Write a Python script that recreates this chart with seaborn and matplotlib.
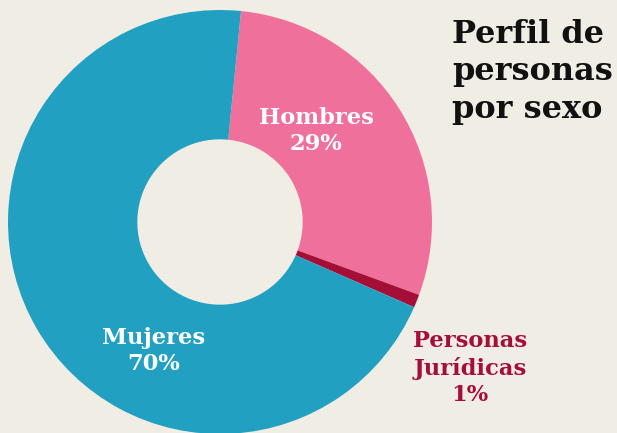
import matplotlib
matplotlib.use('Agg')
import matplotlib.pyplot as plt
import seaborn as sns

categorias = ['Hombres', 'Personas\nJurídicas', 'Mujeres']
porcentajes = [29, 1, 70]
colores = ['#F0709C', '#A50F37', '#21A0C2']

sns.set_theme(style='white')
plt.rcParams['font.family'] = ['DejaVu Serif']
fondo = '#F0EDE4'

fig = plt.figure(figsize=(6.17, 4.33), dpi=100, facecolor=fondo)
# ejes del anillo, el centro queda en (220, 222) px desde arriba
ax = fig.add_axes([8 / 617, -1 / 433, 424 / 617, 424 / 433])
ax.set_facecolor(fondo)
wedges, _ = ax.pie(porcentajes, colors=colores, startangle=84.3,
                   counterclock=False, radius=1,
                   wedgeprops=dict(width=0.61, linewidth=0))
ax.set_xlim(-1, 1)
ax.set_ylim(-1, 1)
ax.set_aspect('equal')
ax.axis('off')

# etiquetas
estilo = dict(ha='center', va='center', fontsize=16.3, fontweight='bold', linespacing=1.25)
ax.text(0.453, 0.43, f'{categorias[0]}\n{porcentajes[0]}%', color='white', **estilo)
ax.text(-0.315, -0.61, f'{categorias[2]}\n{porcentajes[2]}%', color='white', **estilo)
fig.text(470 / 617, 1 - 368 / 433, f'{categorias[1]}\n{porcentajes[1]}%',
         color=colores[1], **estilo)

fig.text(452 / 617, 1 - 19 / 433, 'Perfil de\npersonas\npor sexo', ha='left', va='top',
         color='#111111', fontsize=23, fontweight='bold', linespacing=1.27)

fig.savefig('out.png', dpi=100, facecolor=fondo)
